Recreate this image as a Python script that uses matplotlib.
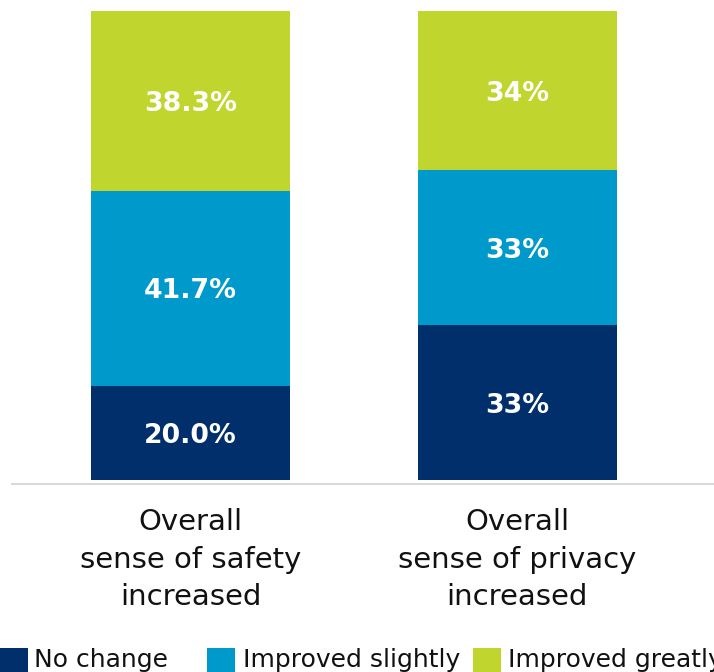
import matplotlib
matplotlib.use("Agg")
import matplotlib.pyplot as plt
from matplotlib.patches import Rectangle

# Survey results: share of respondents per response level
categories = ["Overall\nsense of safety\nincreased", "Overall\nsense of privacy\nincreased"]
levels = ["No change", "Improved slightly", "Improved greatly"]
safety = [20.0, 41.7, 38.3]
privacy = [33, 33, 34]
label_decimals = [1, 0]
colors = ["#002f6b", "#0099cc", "#c0d62f"]

series = [safety, privacy]

W, H = 714, 672
fig = plt.figure(figsize=(W / 100, H / 100), dpi=100)
fig.patch.set_facecolor("white")

ax = fig.add_axes([12 / W, (H - 484) / H, (W - 12) / W, (484 - 11) / H])
ax.set_xlim(-0.547, 1.603)
ax.set_ylim(-0.85, 100)

x_pos = list(range(len(categories)))
for xi, values, dec in zip(x_pos, series, label_decimals):
    bottom = 0.0
    for v, c in zip(values, colors):
        ax.bar(xi, v, bottom=bottom, width=0.61, color=c, linewidth=0)
        ax.text(xi, bottom + v / 2, f"{v:.{dec}f}%", ha="center",
                va="center_baseline", color="white", fontsize=19.3,
                fontweight="bold")
        bottom += v

for side in ["top", "right", "left"]:
    ax.spines[side].set_visible(False)
ax.spines["bottom"].set_color("#d9d9d9")
ax.spines["bottom"].set_linewidth(1.5)
ax.set_yticks([])
ax.set_xticks(x_pos)
ax.set_xticklabels(categories, fontsize=21, color="#111111", linespacing=1.43)
ax.tick_params(axis="x", length=0, pad=17.5)

# Legend row along the bottom edge
patch_x = [0, 207, 473]
text_x = [34, 243, 508]
for px, tx, lab, c in zip(patch_x, text_x, levels, colors):
    fig.add_artist(Rectangle((px / W, (H - 676) / H), 28 / W, 28 / H,
                             transform=fig.transFigure, color=c, linewidth=0))
    fig.text(tx / W, (H - 667) / H, lab, fontsize=18, color="#111111",
             va="baseline", ha="left")

fig.savefig("out.png", dpi=100, facecolor="white")
